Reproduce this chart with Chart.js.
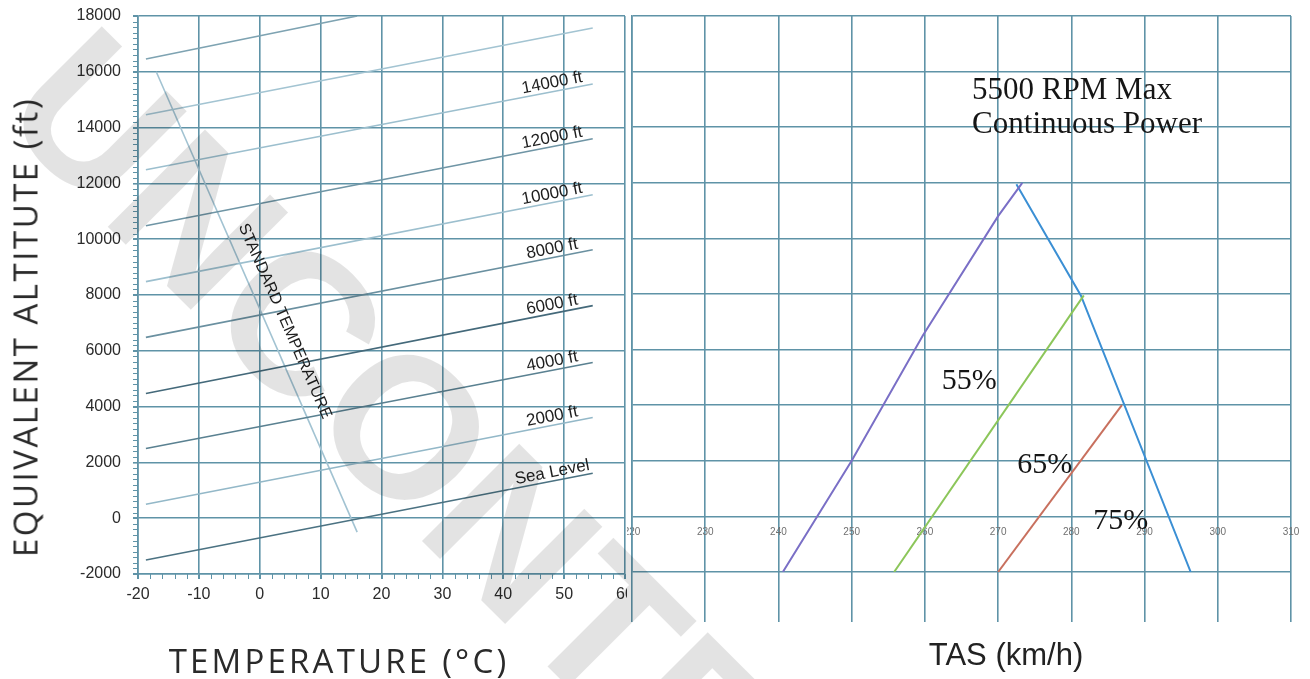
<!DOCTYPE html>
<html>
<head>
<meta charset="utf-8">
<script src="https://cdn.jsdelivr.net/npm/chart.js@4.4.1/dist/chart.umd.min.js"></script>
<style>
html,body{margin:0;padding:0;background:#fff;width:1310px;height:679px;overflow:hidden;}
body{position:relative;font-family:'Liberation Sans',Arial,sans-serif;}
#leftWrap{position:absolute;left:0;top:0;width:640px;height:679px;}
#rightWrap{position:absolute;left:627px;top:0;width:683px;height:679px;background:#fff;}
.title{position:absolute;white-space:nowrap;color:#2a2a2a;}
#yTitle{left:25px;top:327px;transform:translate(-50%,-50%) rotate(-90deg);font:400 33px 'Open Sans',sans-serif;letter-spacing:2.5px;}
#xTitle{left:339px;top:660px;transform:translate(-50%,-50%);font:400 33px 'Open Sans',sans-serif;letter-spacing:3.2px;}
#tasTitle{left:1006px;top:655px;transform:translate(-50%,-50%);font:31px 'Liberation Sans',Arial,sans-serif;color:#222;}
#watermark{position:absolute;left:-4px;top:-54px;transform-origin:0 169px;transform:rotate(45deg);font:bold 200px/200px 'Liberation Sans',Arial,sans-serif;color:rgba(0,0,0,0.11);white-space:nowrap;pointer-events:none;z-index:10;}
</style>
</head>
<body>
<div id="leftWrap"><canvas id="left" width="640" height="679"></canvas></div>
<div id="rightWrap"><canvas id="right" width="683" height="679"></canvas></div>
<div class="title" id="yTitle">EQUIVALENT ALTITUTE (ft)</div>
<div class="title" id="xTitle">TEMPERATURE (°C)</div>
<div class="title" id="tasTitle">TAS (km/h)</div>
<div id="watermark">UNCONTROLLED</div>
<script>
// ---------- data ----------
const tempTicks = [-20, -10, 0, 10, 20, 30, 40, 50, 60];
const altTicks = [-2000, 0, 2000, 4000, 6000, 8000, 10000, 12000, 14000, 16000, 18000];
const paNames = ['Sea Level', '2000 ft', '4000 ft', '6000 ft', '8000 ft', '10000 ft', '12000 ft', '14000 ft', '', ''];
const paTempStart = [-18.7, -18.7, -18.7, -18.7, -18.7, -18.7, -18.7, -18.7, -18.7, -18.7];
const paTempEnd = [54.7, 54.7, 54.7, 54.7, 54.7, 54.7, 54.7, 54.7, 54.7, 16];
const paAltStart = [-1500, 500, 2500, 4470, 6480, 8480, 10480, 12490, 14460, 16460];
const paAltEnd = [1610, 3610, 5580, 7620, 9620, 11590, 13600, 15560, 17570, 18000];
const stdTemp = [-17, 16];
const stdAlt = [16000, -500];

const tasTicks = [220, 230, 240, 250, 260, 270, 280, 290, 300, 310];
const mcpTas = [272.5, 281.3, 296.3];
const mcpAlt = [11950, 7950, -2000];
const p55Tas = [240.6, 250, 259.7, 270, 273.3];
const p55Alt = [-2000, 2000, 6500, 10800, 12000];
const p65Tas = [255.8, 281.7];
const p65Alt = [-2000, 7950];
const p75Tas = [270, 286.9];
const p75Alt = [-2000, 4000];

// ---------- styles ----------
const GRID = '#5f93a7';
const paColors = ['#4b7282', '#93b8c8', '#5a8191', '#44697a', '#6a90a0', '#9cbfce', '#6f95a5', '#9cbfce', '#a3c4d2', '#7ea3b2'];
const pts = (xs, ys) => xs.map((v, i) => ({x: v, y: ys[i]}));
const noPadX = s => { s.paddingLeft = 0; s.paddingRight = 0; };
const noPadY = s => { s.paddingTop = 0; s.paddingBottom = 0; };

// ---------- left chart ----------
const leftAnno = {
  id: 'leftAnno',
  afterDatasetsDraw(chart) {
    const {ctx, scales: {x, y}} = chart;
    ctx.save();
    // minor ticks
    ctx.strokeStyle = GRID; ctx.lineWidth = 1;
    ctx.beginPath();
    for (let v = altTicks[0]; v <= altTicks[altTicks.length - 1]; v += 200) {
      const py = Math.round(y.getPixelForValue(v)) + 0.5;
      ctx.moveTo(x.left - 5, py); ctx.lineTo(x.left, py);
    }
    for (let t = tempTicks[0]; t <= tempTicks[tempTicks.length - 1]; t += 2) {
      const px = Math.round(x.getPixelForValue(t)) + 0.5;
      ctx.moveTo(px, y.bottom); ctx.lineTo(px, y.bottom + 5);
    }
    ctx.stroke();
    // pressure altitude labels
    ctx.fillStyle = '#1e1e1e';
    ctx.font = '17px "Liberation Sans", Arial, sans-serif';
    ctx.textAlign = 'center'; ctx.textBaseline = 'alphabetic';
    paNames.forEach((name, i) => {
      if (!name) return;
      const x0 = x.getPixelForValue(paTempStart[i]), y0 = y.getPixelForValue(paAltStart[i]);
      const x1 = x.getPixelForValue(paTempEnd[i]), y1 = y.getPixelForValue(paAltEnd[i]);
      const ang = Math.atan2(y1 - y0, x1 - x0);
      const tc = 48.3;
      const f = (tc - paTempStart[i]) / (paTempEnd[i] - paTempStart[i]);
      const px = x.getPixelForValue(tc), py = y0 + (y1 - y0) * f;
      ctx.save();
      ctx.translate(px, py); ctx.rotate(ang);
      ctx.fillText(name, 0, -4);
      ctx.restore();
    });
    // standard temperature label
    const sx0 = x.getPixelForValue(stdTemp[0]), sy0 = y.getPixelForValue(stdAlt[0]);
    const sx1 = x.getPixelForValue(stdTemp[1]), sy1 = y.getPixelForValue(stdAlt[1]);
    const sa = Math.atan2(sy1 - sy0, sx1 - sx0);
    const fs = (stdAlt[0] - 6800) / (stdAlt[0] - stdAlt[1]);
    ctx.save();
    ctx.translate(sx0 + (sx1 - sx0) * fs, sy0 + (sy1 - sy0) * fs);
    ctx.rotate(sa);
    ctx.font = '16px "Liberation Sans", Arial, sans-serif';
    ctx.textBaseline = 'middle';
    ctx.fillText('STANDARD TEMPERATURE', 0, -18);
    ctx.restore();
    ctx.restore();
  }
};

const leftDatasets = paAltStart.map((a, i) => ({
  label: paNames[i] || ('PA line ' + i),
  data: pts([paTempStart[i], paTempEnd[i]], [paAltStart[i], paAltEnd[i]]),
  borderColor: paColors[i], borderWidth: 1.6, pointRadius: 0, showLine: true, fill: false
}));
leftDatasets.push({
  label: 'Standard temperature',
  data: pts(stdTemp, stdAlt),
  borderColor: '#a2c3d2', borderWidth: 1.6, pointRadius: 0, showLine: true, fill: false
});

const tickFont = {family: '"Liberation Sans", Arial, sans-serif', size: 16};

new Chart(document.getElementById('left'), {
  type: 'scatter',
  data: {datasets: leftDatasets},
  options: {
    responsive: false, animation: false, devicePixelRatio: 1,
    layout: {padding: {top: 16, right: 15, left: 0, bottom: 0}},
    plugins: {legend: {display: false}, tooltip: {enabled: false}},
    scales: {
      x: {
        type: 'linear', min: tempTicks[0], max: tempTicks[tempTicks.length - 1],
        afterBuildTicks: s => { s.ticks = tempTicks.map(v => ({value: v})); },
        afterFit: s => { s.height = 105; noPadX(s); },
        grid: {color: GRID, lineWidth: 1.6, tickLength: 5, tickColor: GRID},
        border: {color: GRID, width: 1.6},
        ticks: {padding: 6, color: '#2b2b2b', font: tickFont, callback: v => String(v), maxRotation: 0}
      },
      y: {
        type: 'linear', min: altTicks[0], max: altTicks[altTicks.length - 1],
        afterBuildTicks: s => { s.ticks = altTicks.map(v => ({value: v})); },
        afterFit: s => { s.width = 138; noPadY(s); },
        grid: {color: GRID, lineWidth: 1.6, tickLength: 5, tickColor: GRID},
        border: {color: GRID, width: 1.6},
        ticks: {padding: 12, color: '#2b2b2b', font: tickFont, callback: v => String(v)}
      }
    }
  },
  plugins: [leftAnno]
});

// ---------- right chart ----------
const rightAnno = {
  id: 'rightAnno',
  afterDatasetsDraw(chart) {
    const {ctx, scales: {x, y}} = chart;
    ctx.save();
    ctx.fillStyle = '#151515';
    ctx.textAlign = 'left'; ctx.textBaseline = 'alphabetic';
    ctx.font = '31px "Liberation Serif", "Times New Roman", serif';
    ctx.fillText('5500 RPM Max', x.getPixelForValue(266.45), y.getPixelForValue(15000));
    ctx.fillText('Continuous Power', x.getPixelForValue(266.45), y.getPixelForValue(13780));
    ctx.font = '30px "Liberation Serif", "Times New Roman", serif';
    ctx.textBaseline = 'middle';
    ctx.fillText('55%', x.getPixelForValue(262.3), y.getPixelForValue(4870));
    ctx.fillText('65%', x.getPixelForValue(272.6), y.getPixelForValue(1830));
    ctx.fillText('75%', x.getPixelForValue(283.0), y.getPixelForValue(-180));
    ctx.restore();
  }
};

const line = (label, xs, ys, color) => ({
  label, data: pts(xs, ys), borderColor: color, borderWidth: 2, pointRadius: 0, showLine: true, fill: false
});

new Chart(document.getElementById('right'), {
  type: 'scatter',
  data: {datasets: [
    line('55%', p55Tas, p55Alt, '#7a6fc6'),
    line('65%', p65Tas, p65Alt, '#8cc65a'),
    line('75%', p75Tas, p75Alt, '#c8705e'),
    line('5500 RPM Max Continuous Power', mcpTas, mcpAlt, '#3b8fd4')
  ]},
  options: {
    responsive: false, animation: false, devicePixelRatio: 1,
    layout: {padding: {top: 16, right: 19, left: 0, bottom: 0}},
    plugins: {legend: {display: false}, tooltip: {enabled: false}},
    scales: {
      x: {
        type: 'linear', min: tasTicks[0], max: tasTicks[tasTicks.length - 1],
        afterBuildTicks: s => { s.ticks = tasTicks.map(v => ({value: v})); },
        afterFit: s => { s.height = 107; noPadX(s); },
        grid: {color: GRID, lineWidth: 1.6, tickLength: 50, tickColor: GRID},
        border: {display: false},
        ticks: {mirror: true, padding: 34, color: '#6f6f6f', font: {family: '"Liberation Sans", Arial, sans-serif', size: 10}, callback: v => String(v), maxRotation: 0, autoSkip: false}
      },
      y: {
        type: 'linear', min: altTicks[0], max: altTicks[altTicks.length - 1],
        afterBuildTicks: s => { s.ticks = altTicks.map(v => ({value: v})); },
        afterFit: s => { s.width = 5; noPadY(s); },
        grid: {color: GRID, lineWidth: 1.6, drawTicks: false},
        border: {color: GRID, width: 1.6},
        ticks: {display: false}
      }
    }
  },
  plugins: [rightAnno]
});
</script>
</body>
</html>
